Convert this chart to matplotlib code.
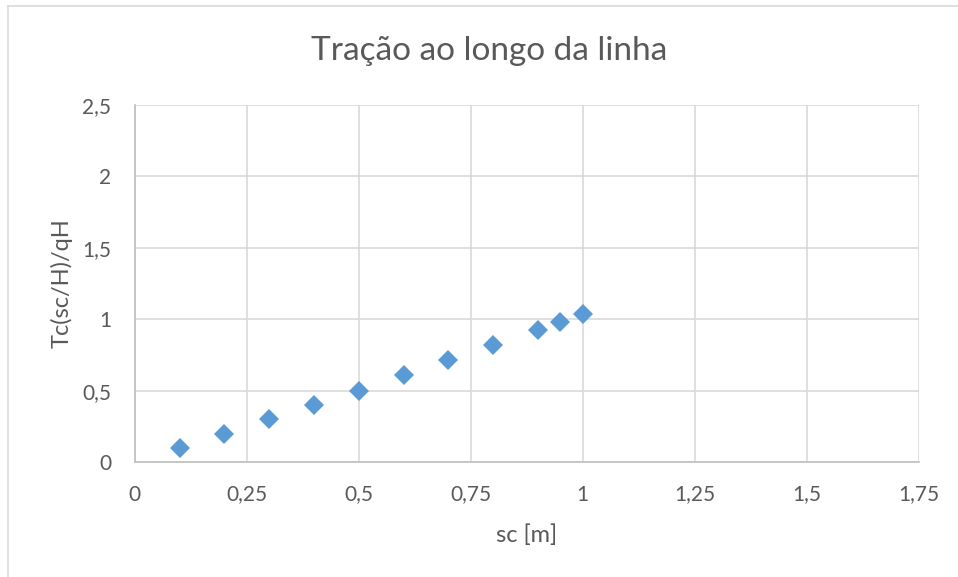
import matplotlib
matplotlib.use("Agg")
import matplotlib.pyplot as plt
from matplotlib.lines import Line2D
from matplotlib.ticker import FuncFormatter

# tracao adimensional ao longo da linha
sc = [0.1, 0.2, 0.3, 0.4, 0.5, 0.6, 0.7, 0.8, 0.9, 0.95, 1.0]
tc = [0.1, 0.2, 0.3, 0.4, 0.5, 0.607, 0.712, 0.818, 0.923, 0.98, 1.035]

x_ticks = [0, 0.25, 0.5, 0.75, 1, 1.25, 1.5, 1.75]
y_ticks = [0, 0.5, 1, 1.5, 2, 2.5]

plt.rcParams['font.family'] = ['Lato', 'DejaVu Sans']
text_color = '#595959'

fig = plt.figure(figsize=(9.58, 5.77), dpi=100)
axis = fig.add_axes([134.7 / 958, 1 - 462.3 / 577,
                     (918.7 - 134.7) / 958, (462.3 - 104.8) / 577])

axis.plot(sc, tc, linestyle='none', marker='D', markersize=10.2,
          color='#5B9BD5', markeredgewidth=0, zorder=3)

axis.set_xlim(0, 1.75)
axis.set_ylim(0, 2.5)
axis.set_xticks(x_ticks)
axis.set_yticks(y_ticks)
comma = FuncFormatter(lambda v, pos: ('%g' % v).replace('.', ','))
axis.xaxis.set_major_formatter(comma)
axis.yaxis.set_major_formatter(comma)
axis.tick_params(length=0, labelsize=15, labelcolor=text_color)
axis.tick_params(axis='x', pad=16)
axis.tick_params(axis='y', pad=17)

axis.grid(True, color='#D9D9D9', linewidth=1.2)
axis.set_axisbelow(True)
for side in ['top', 'right']:
    axis.spines[side].set_visible(False)
for side in ['left', 'bottom']:
    axis.spines[side].set_color('#BFBFBF')
    axis.spines[side].set_linewidth(1.2)

axis.set_xlabel('sc [m]', fontsize=17, color=text_color, labelpad=14)
axis.set_ylabel('Tc(sc/H)/qH', fontsize=17, color=text_color, labelpad=7)
fig.text(489 / 958, 1 - 51 / 577, 'Tração ao longo da linha', fontsize=24,
         color=text_color, ha='center', va='center')

# chart area frame
fig.add_artist(Line2D([8 / 958, 1], [1 - 5.5 / 577] * 2, color='#D9D9D9',
                      linewidth=1.2, transform=fig.transFigure))
fig.add_artist(Line2D([8 / 958] * 2, [0, 1 - 5.5 / 577], color='#D9D9D9',
                      linewidth=1.2, transform=fig.transFigure))

fig.savefig('out.png', dpi=100)
